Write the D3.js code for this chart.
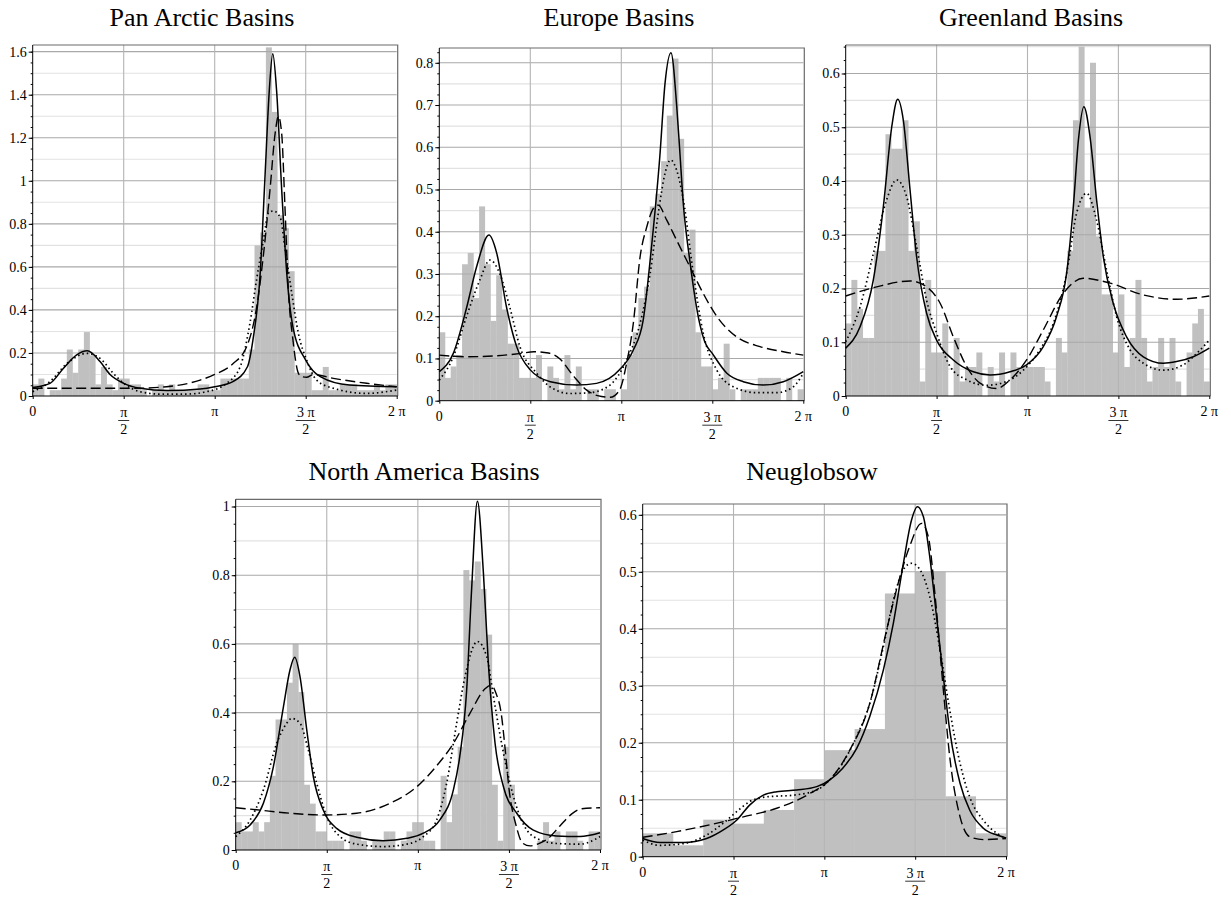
<!DOCTYPE html>
<html>
<head>
<meta charset="utf-8">
<script src="https://cdn.jsdelivr.net/npm/d3@7"></script>
<style>
  body { margin: 0; background: #ffffff; }
  svg { display: block; }
</style>
</head>
<body>
<svg id="chart" width="1231" height="901"></svg>
<script>
// ---- Titles ----
const titles = ["Pan Arctic Basins", "Europe Basins", "Greenland Basins", "North America Basins", "Neuglobsow"];

// ---- Histogram densities (equal-width bins over [0, 2π]) ----
const panArcticBins = [0.054,0.081,0.0,0.027,0.027,0.081,0.216,0.108,0.216,0.297,0.189,0.054,0.135,0.054,0.027,0.081,
  0.081,0.054,0.054,0.027,0.0,0.027,0.054,0.027,0.054,0.027,0.027,0.027,0.027,0.054,0.054,0.027,
  0.027,0.081,0.081,0.081,0.081,0.081,0.216,0.70,0.76,1.62,1.32,0.84,0.78,0.58,0.108,0.108,
  0.108,0.027,0.027,0.135,0.027,0.027,0.054,0.054,0.054,0.027,0.027,0.027,0.054,0.027,0.054,0.054];
const europeBins = [0.162,0.054,0.081,0.108,0.323,0.35,0.243,0.46,0.323,0.189,0.297,0.216,0.135,0.135,0.054,0.054,
  0.054,0.108,0.0,0.081,0.054,0.027,0.108,0.027,0.081,0.0,0.027,0.027,0.0,0.027,0.027,0.0,
  0.027,0.108,0.162,0.243,0.27,0.46,0.49,0.567,0.675,0.81,0.62,0.35,0.405,0.162,0.081,0.081,
  0.027,0.054,0.135,0.027,0.0,0.027,0.027,0.027,0.054,0.054,0.054,0.054,0.0,0.054,0.0,0.027];
const greenlandBins = [0.135,0.216,0.162,0.108,0.108,0.27,0.27,0.487,0.46,0.46,0.513,0.27,0.325,0.027,0.216,0.081,
  0.081,0.135,0.0,0.108,0.027,0.054,0.054,0.081,0.0,0.054,0.027,0.081,0.0,0.081,0.054,0.054,
  0.054,0.054,0.054,0.027,0.0,0.108,0.081,0.27,0.513,0.65,0.35,0.62,0.297,0.189,0.189,0.081,
  0.189,0.054,0.108,0.216,0.108,0.027,0.054,0.108,0.054,0.108,0.027,0.0,0.081,0.135,0.162,0.027];
const northAmericaBins = [0.081,0.054,0.054,0.081,0.054,0.081,0.216,0.38,0.38,0.487,0.6,0.46,0.19,0.135,0.054,0.054,
  0.027,0.027,0.027,0.0,0.054,0.054,0.027,0.0,0.027,0.027,0.054,0.054,0.0,0.027,0.054,0.081,
  0.081,0.027,0.027,0.0,0.216,0.081,0.162,0.3,0.815,0.785,0.84,0.76,0.627,0.19,0.027,0.3,
  0.19,0.0,0.0,0.0,0.0,0.027,0.081,0.027,0.054,0.0,0.054,0.054,0.027,0.0,0.054,0.054];
const neuglobsowBins = [0.041,0.02,0.065,0.058,0.082,0.136,0.187,0.224,0.462,0.5,0.106,0.041];

// ---- Fitted densities, [angle in units of π, density] ----
const panArcticSolid = [[0,0.040],[0.095,0.059],[0.168,0.128],[0.24,0.19],[0.30,0.21],[0.37,0.16],[0.425,0.10],[0.5,0.059],
  [0.59,0.036],[0.74,0.025],[0.92,0.032],[1.0,0.043],[1.1,0.067],[1.18,0.136],[1.21,0.26],[1.25,0.57],[1.277,1.03],
  [1.30,1.42],[1.319,1.59],[1.34,1.42],[1.368,0.96],[1.396,0.57],[1.43,0.32],[1.5,0.167],[1.58,0.09],[1.74,0.051],[2.0,0.043]];
const panArcticDotted = [[0,0.02],[0.095,0.067],[0.187,0.15],[0.297,0.198],[0.37,0.175],[0.443,0.105],[0.5,0.059],[0.59,0.02],
  [0.7,0.009],[0.846,0.009],[0.956,0.02],[1.066,0.059],[1.14,0.136],[1.194,0.34],[1.23,0.54],[1.267,0.72],[1.295,0.85],
  [1.322,0.86],[1.36,0.83],[1.386,0.69],[1.423,0.48],[1.46,0.29],[1.505,0.167],[1.56,0.074],[1.652,0.036],[1.835,0.012],[2.0,0.028]];
const panArcticDashed = [[0,0.036],[0.3,0.036],[0.553,0.036],[0.736,0.043],[0.92,0.074],[1.0,0.1],[1.1,0.15],[1.176,0.23],
  [1.23,0.41],[1.267,0.65],[1.304,0.96],[1.332,1.22],[1.35,1.30],[1.368,1.22],[1.386,0.88],[1.405,0.49],[1.43,0.26],
  [1.46,0.105],[1.478,0.09],[1.505,0.087],[1.542,0.1],[1.652,0.082],[1.835,0.059],[2.0,0.043]];

const europeSolid = [[0,0.069],[0.077,0.112],[0.15,0.22],[0.205,0.317],[0.273,0.392],[0.315,0.35],[0.37,0.22],[0.425,0.128],
  [0.5,0.073],[0.61,0.045],[0.755,0.037],[0.864,0.041],[0.99,0.073],[1.066,0.12],[1.12,0.19],[1.165,0.36],[1.212,0.58],
  [1.24,0.75],[1.273,0.824],[1.304,0.70],[1.32,0.60],[1.34,0.47],[1.377,0.33],[1.432,0.18],[1.458,0.14],[1.5,0.112],
  [1.58,0.065],[1.67,0.045],[1.78,0.037],[1.89,0.045],[2.0,0.069]];
const europeDotted = [[0,0.049],[0.077,0.104],[0.15,0.2],[0.223,0.286],[0.278,0.333],[0.333,0.3],[0.388,0.22],[0.443,0.128],
  [0.535,0.065],[0.608,0.033],[0.718,0.017],[0.828,0.019],[0.938,0.037],[1.029,0.096],[1.103,0.183],[1.158,0.3],
  [1.203,0.443],[1.24,0.538],[1.271,0.57],[1.304,0.546],[1.341,0.475],[1.396,0.3],[1.45,0.16],[1.524,0.073],
  [1.615,0.033],[1.744,0.019],[1.853,0.019],[1.945,0.033],[2.0,0.065]];
const europeDashed = [[0,0.108],[0.15,0.104],[0.3,0.106],[0.45,0.112],[0.52,0.116],[0.6,0.113],[0.66,0.1],[0.74,0.057],
  [0.81,0.025],[0.87,0.012],[0.94,0.008],[0.99,0.025],[1.029,0.088],[1.066,0.183],[1.103,0.34],[1.139,0.41],[1.176,0.455],
  [1.203,0.463],[1.249,0.428],[1.304,0.38],[1.377,0.317],[1.45,0.254],[1.524,0.2],[1.634,0.151],[1.762,0.128],[1.89,0.116],[2.0,0.108]];

const greenlandSolid = [[0,0.089],[0.079,0.129],[0.152,0.216],[0.207,0.352],[0.253,0.5],[0.286,0.552],[0.317,0.513],[0.354,0.383],
  [0.39,0.259],[0.445,0.154],[0.5,0.104],[0.592,0.067],[0.702,0.045],[0.794,0.039],[0.904,0.045],[0.995,0.058],[1.087,0.092],
  [1.16,0.148],[1.215,0.228],[1.252,0.352],[1.28,0.476],[1.31,0.538],[1.344,0.482],[1.38,0.365],[1.417,0.259],[1.472,0.172],
  [1.545,0.11],[1.637,0.073],[1.747,0.061],[1.82,0.064],[1.912,0.073],[2.0,0.089]];
const greenlandDotted = [[0,0.101],[0.079,0.166],[0.152,0.265],[0.225,0.365],[0.28,0.402],[0.335,0.371],[0.39,0.278],[0.445,0.178],
  [0.5,0.117],[0.574,0.055],[0.665,0.03],[0.775,0.02],[0.885,0.027],[0.977,0.048],[1.068,0.086],[1.142,0.135],[1.215,0.228],
  [1.27,0.34],[1.325,0.377],[1.38,0.327],[1.435,0.234],[1.49,0.148],[1.564,0.086],[1.637,0.061],[1.747,0.048],[1.857,0.058],
  [1.93,0.079],[2.0,0.104]];
const greenlandDashed = [[0,0.186],[0.17,0.203],[0.354,0.214],[0.445,0.203],[0.52,0.172],[0.592,0.11],[0.665,0.055],[0.739,0.024],
  [0.83,0.014],[0.904,0.03],[0.995,0.067],[1.087,0.123],[1.197,0.191],[1.307,0.219],[1.454,0.21],[1.637,0.188],[1.82,0.18],[2.0,0.186]];

const northAmericaSolid = [[0,0.05],[0.079,0.073],[0.152,0.136],[0.207,0.243],[0.262,0.417],[0.298,0.524],[0.324,0.561],[0.353,0.505],
  [0.39,0.35],[0.426,0.214],[0.48,0.117],[0.554,0.063],[0.664,0.037],[0.81,0.027],[0.94,0.034],[1.03,0.049],[1.12,0.087],
  [1.195,0.175],[1.23,0.272],[1.268,0.466],[1.295,0.757],[1.327,1.015],[1.36,0.806],[1.387,0.544],[1.424,0.31],[1.47,0.184],
  [1.543,0.107],[1.634,0.058],[1.76,0.041],[1.89,0.039],[2.0,0.05]];
const northAmericaDotted = [[0,0.039],[0.079,0.087],[0.152,0.175],[0.225,0.31],[0.28,0.369],[0.307,0.383],[0.353,0.369],[0.399,0.29],
  [0.445,0.194],[0.5,0.097],[0.573,0.039],[0.664,0.017],[0.81,0.01],[0.94,0.017],[1.03,0.039],[1.103,0.087],[1.158,0.194],
  [1.213,0.369],[1.259,0.505],[1.327,0.607],[1.378,0.563],[1.415,0.447],[1.46,0.31],[1.506,0.194],[1.561,0.097],[1.634,0.039],
  [1.762,0.019],[1.89,0.017],[2.0,0.039]];
const northAmericaDashed = [[0,0.123],[0.115,0.117],[0.298,0.107],[0.48,0.102],[0.664,0.107],[0.847,0.136],[0.994,0.184],[1.1,0.243],
  [1.195,0.31],[1.286,0.398],[1.37,0.47],[1.402,0.48],[1.43,0.455],[1.457,0.4],[1.48,0.29],[1.5,0.18],[1.54,0.07],[1.575,0.02],
  [1.616,0.012],[1.67,0.02],[1.716,0.034],[1.78,0.07],[1.845,0.105],[1.9,0.12],[2.0,0.123]];

const neuglobsowSolid = [[0,0.032],[0.095,0.025],[0.224,0.025],[0.352,0.032],[0.444,0.047],[0.517,0.064],[0.59,0.091],[0.664,0.108],
  [0.738,0.114],[0.848,0.117],[0.958,0.123],[1.03,0.135],[1.1,0.155],[1.178,0.19],[1.25,0.246],[1.325,0.328],[1.38,0.41],
  [1.435,0.515],[1.48,0.591],[1.512,0.614],[1.545,0.597],[1.58,0.527],[1.618,0.42],[1.655,0.316],[1.69,0.222],[1.747,0.129],
  [1.8,0.082],[1.875,0.05],[1.95,0.038],[2.0,0.033]];
const neuglobsowDotted = [[0,0.029],[0.095,0.02],[0.224,0.023],[0.352,0.038],[0.444,0.059],[0.517,0.079],[0.59,0.097],[0.682,0.105],
  [0.829,0.108],[0.958,0.117],[1.03,0.135],[1.1,0.164],[1.178,0.211],[1.25,0.269],[1.325,0.369],[1.38,0.45],[1.435,0.504],
  [1.48,0.515],[1.526,0.504],[1.58,0.457],[1.637,0.363],[1.69,0.258],[1.747,0.164],[1.8,0.105],[1.875,0.064],[1.95,0.041],[2.0,0.032]];
const neuglobsowDashed = [[0,0.034],[0.187,0.044],[0.37,0.056],[0.554,0.07],[0.738,0.085],[0.92,0.111],[1.03,0.135],[1.14,0.187],
  [1.25,0.269],[1.343,0.398],[1.417,0.492],[1.47,0.545],[1.535,0.585],[1.572,0.562],[1.61,0.457],[1.655,0.293],[1.69,0.176],
  [1.747,0.07],[1.8,0.035],[1.875,0.03],[2.0,0.032]];

// ---- Axis ticks ----
const panArcticYTicks = [0, 0.2, 0.4, 0.6, 0.8, 1, 1.2, 1.4, 1.6];
const europeYTicks = [0, 0.1, 0.2, 0.3, 0.4, 0.5, 0.6, 0.7, 0.8];
const greenlandYTicks = [0, 0.1, 0.2, 0.3, 0.4, 0.5, 0.6];
const northAmericaYTicks = [0, 0.2, 0.4, 0.6, 0.8, 1];
const neuglobsowYTicks = [0, 0.1, 0.2, 0.3, 0.4, 0.5, 0.6];
const xTickValues = [0, 0.5, 1, 1.5, 2];               // multiples of π
const xTickLabels = [["0"], ["π", "2"], ["π"], ["3 π", "2"], ["2 π"]]; // [numerator, denominator]

// ---- Panel layout ----
const panels = [
  { title: titles[0], bins: panArcticBins, solid: panArcticSolid, dotted: panArcticDotted, dashed: panArcticDashed,
    yTicks: panArcticYTicks, left: 32.7, right: 396.7, bottom: 396, top: 45, yMax: 1.631, titleX: 202, titleY: 26 },
  { title: titles[1], bins: europeBins, solid: europeSolid, dotted: europeDotted, dashed: europeDashed,
    yTicks: europeYTicks, left: 439.3, right: 803.3, bottom: 400.7, top: 48, yMax: 0.835, titleX: 619, titleY: 26 },
  { title: titles[2], bins: greenlandBins, solid: greenlandSolid, dotted: greenlandDotted, dashed: greenlandDashed,
    yTicks: greenlandYTicks, left: 845.7, right: 1209.3, bottom: 396, top: 45, yMax: 0.653, titleX: 1031, titleY: 26 },
  { title: titles[3], bins: northAmericaBins, solid: northAmericaSolid, dotted: northAmericaDotted, dashed: northAmericaDashed,
    yTicks: northAmericaYTicks, left: 235.7, right: 600, bottom: 850, top: 499.3, yMax: 1.021, titleX: 424, titleY: 480 },
  { title: titles[4], bins: neuglobsowBins, solid: neuglobsowSolid, dotted: neuglobsowDotted, dashed: neuglobsowDashed,
    yTicks: neuglobsowYTicks, left: 642.7, right: 1006, bottom: 856.7, top: 504, yMax: 0.619, titleX: 812, titleY: 480 }
];

const svg = d3.select("#chart");
const serif = "'Liberation Serif', 'Times New Roman', serif";
const tickFont = 14;

panels.forEach(p => {
  const g = svg.append("g");
  const x = d3.scaleLinear().domain([0, 2]).range([p.left, p.right]);
  const y = d3.scaleLinear().domain([0, p.yMax]).range([p.bottom, p.top]);
  const step = p.yTicks[1] - p.yTicks[0];

  // minor horizontal grid (half steps)
  const minor = d3.range(step / 2, p.yMax, step).filter(v => Math.abs(v / step - Math.round(v / step)) > 0.01);
  g.append("g").selectAll("line").data(minor).join("line")
    .attr("x1", p.left).attr("x2", p.right)
    .attr("y1", d => y(d)).attr("y2", d => y(d))
    .attr("stroke", "#e2e2e2").attr("stroke-width", 1.1);

  // histogram
  const n = p.bins.length;
  g.append("g").selectAll("rect").data(p.bins).join("rect")
    .attr("x", (d, i) => x(2 * i / n))
    .attr("width", (d, i) => x(2 * (i + 1) / n) - x(2 * i / n) + 0.3)
    .attr("y", d => y(d))
    .attr("height", d => y(0) - y(d))
    .attr("fill", "#c0c0c0");

  // major grid
  g.append("g").selectAll("line").data(p.yTicks.filter(v => v > 0)).join("line")
    .attr("x1", p.left).attr("x2", p.right)
    .attr("y1", d => y(d)).attr("y2", d => y(d))
    .attr("stroke", "#a9a9a9").attr("stroke-width", 1.1);
  g.append("g").selectAll("line").data([0.5, 1, 1.5]).join("line")
    .attr("x1", d => x(d)).attr("x2", d => x(d))
    .attr("y1", p.top).attr("y2", p.bottom)
    .attr("stroke", "#b4b4b4").attr("stroke-width", 1.1);

  // frame (top and right)
  g.append("path")
    .attr("d", `M${p.left},${p.top}H${p.right + 1}V${p.bottom}`)
    .attr("fill", "none").attr("stroke", "#6a6a6a").attr("stroke-width", 1.2);

  // fitted curves
  const line = d3.line().x(d => x(d[0])).y(d => y(d[1])).curve(d3.curveMonotoneX);
  g.append("path").datum(p.dashed).attr("d", line)
    .attr("fill", "none").attr("stroke", "#000").attr("stroke-width", 1.4)
    .attr("stroke-dasharray", "10,4.5");
  g.append("path").datum(p.dotted).attr("d", line)
    .attr("fill", "none").attr("stroke", "#000").attr("stroke-width", 1.7)
    .attr("stroke-dasharray", "1.5,3");
  g.append("path").datum(p.solid).attr("d", line)
    .attr("fill", "none").attr("stroke", "#000").attr("stroke-width", 1.5);

  // y axis
  const fmt = d => d === 0 ? "0" : String(+d.toFixed(2));
  const minorTicks = d3.range(0, p.yMax + 1e-9, step / 4);
  g.append("g").attr("transform", `translate(${p.left},0)`)
    .call(d3.axisLeft(y).tickValues(minorTicks).tickSize(2).tickFormat(""))
    .call(a => a.select(".domain").remove());
  const ya = g.append("g").attr("transform", `translate(${p.left},0)`)
    .call(d3.axisLeft(y).tickValues(p.yTicks).tickSize(4).tickPadding(2).tickFormat(fmt));
  ya.attr("font-family", serif).attr("font-size", tickFont);
  ya.select(".domain").attr("d", `M0,${p.bottom + 0.5}V${p.top}`).attr("stroke", "#000");
  ya.selectAll("text").style("font-family", serif).style("font-size", tickFont + "px").attr("fill", "#000");

  // x axis
  const xa = g.append("g").attr("transform", `translate(0,${p.bottom})`)
    .call(d3.axisBottom(x).tickValues(xTickValues).tickSize(3).tickFormat(""));
  xa.select(".domain").attr("d", `M${p.left},0H${p.right + 1}`).attr("stroke", "#000");
  const lab = g.append("g").style("font-family", serif).style("font-size", tickFont + "px").attr("text-anchor", "middle");
  xTickValues.forEach((v, i) => {
    const parts = xTickLabels[i];
    const cx = x(v);
    if (parts.length === 1) {
      lab.append("text").attr("x", cx).attr("y", p.bottom + 20).text(parts[0]);
    } else {
      const w = parts[0].length > 1 ? 20 : 11;
      lab.append("text").attr("x", cx).attr("y", p.bottom + 21).text(parts[0]);
      lab.append("line").attr("x1", cx - w / 2).attr("x2", cx + w / 2)
        .attr("y1", p.bottom + 24.5).attr("y2", p.bottom + 24.5)
        .attr("stroke", "#000").attr("stroke-width", 0.8);
      lab.append("text").attr("x", cx).attr("y", p.bottom + 38).text(parts[1]);
    }
  });

  // title
  g.append("text").attr("x", p.titleX).attr("y", p.titleY)
    .attr("text-anchor", "middle").style("font-family", serif).style("font-size", "26px")
    .attr("fill", "#000").text(p.title);
});
</script>
</body>
</html>
